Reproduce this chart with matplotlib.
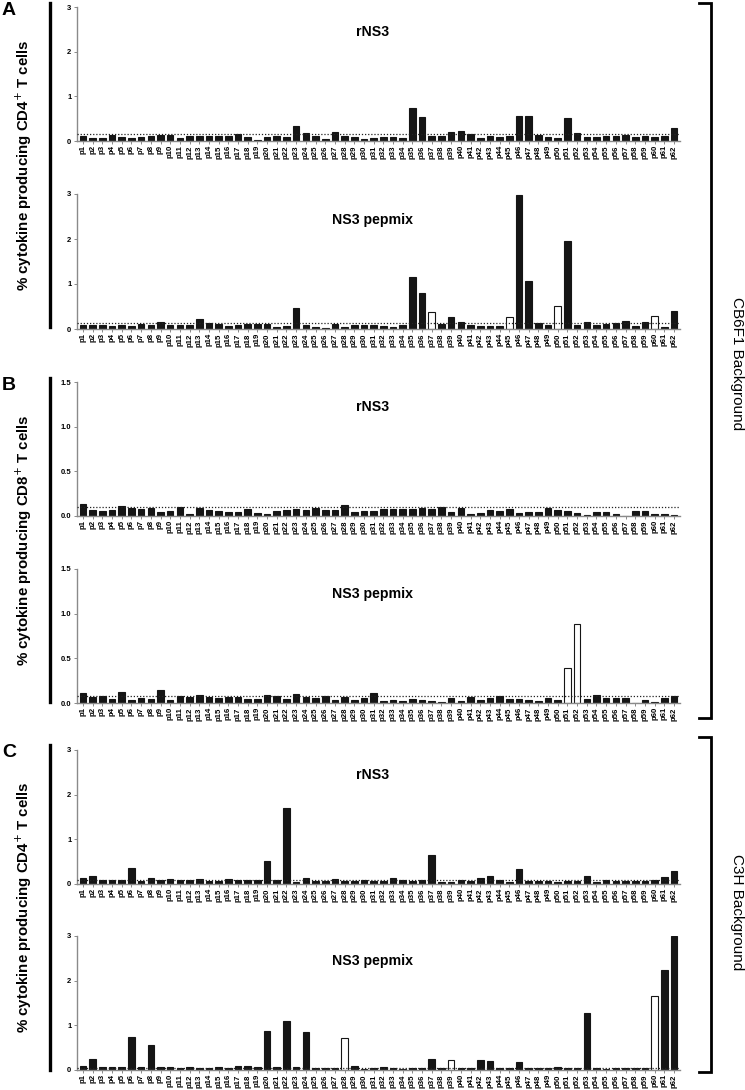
import matplotlib
matplotlib.use("Agg")
import matplotlib.pyplot as plt
from matplotlib.lines import Line2D

plt.rcParams['font.family'] = ['Liberation Sans', 'DejaVu Sans']

peptides = [f"p{i}" for i in range(1, 63)]

# Panel A (CB6F1, CD4+)
a_rns3 = [0.11, 0.075, 0.075, 0.14, 0.08, 0.075, 0.10, 0.105, 0.14, 0.14,
          0.075, 0.11, 0.11, 0.11, 0.11, 0.11, 0.16, 0.10, 0.02, 0.08,
          0.11, 0.08, 0.34, 0.19, 0.11, 0.045, 0.20, 0.105, 0.09, 0.04,
          0.06, 0.09, 0.09, 0.07, 0.74, 0.53, 0.11, 0.12, 0.20, 0.22,
          0.15, 0.075, 0.105, 0.09, 0.11, 0.56, 0.56, 0.135, 0.10, 0.075,
          0.52, 0.17, 0.10, 0.10, 0.12, 0.105, 0.135, 0.08, 0.12, 0.08,
          0.105, 0.30]
a_rns3_cut = 0.15
a_rns3_open = []

a_pep = [0.10, 0.10, 0.09, 0.07, 0.10, 0.075, 0.11, 0.09, 0.15, 0.08,
         0.08, 0.09, 0.23, 0.14, 0.11, 0.075, 0.09, 0.11, 0.12, 0.11,
         0.05, 0.07, 0.46, 0.08, 0.045, 0.02, 0.11, 0.05, 0.10, 0.10,
         0.08, 0.07, 0.045, 0.08, 1.15, 0.80, 0.37, 0.12, 0.27, 0.16,
         0.10, 0.075, 0.07, 0.06, 0.27, 2.98, 1.07, 0.13, 0.09, 0.51,
         1.96, 0.09, 0.15, 0.08, 0.11, 0.13, 0.18, 0.07, 0.16, 0.29,
         0.05, 0.39]
a_pep_cut = 0.126
a_pep_open = ["p37", "p45", "p50", "p60"]

# Panel B (CB6F1, CD8+)
b_rns3 = [0.13, 0.07, 0.06, 0.063, 0.11, 0.093, 0.08, 0.093, 0.048, 0.052,
          0.104, 0.026, 0.089, 0.067, 0.052, 0.044, 0.048, 0.078, 0.037, 0.026,
          0.052, 0.063, 0.08, 0.063, 0.093, 0.07, 0.07, 0.12, 0.04, 0.06,
          0.06, 0.08, 0.074, 0.074, 0.074, 0.093, 0.074, 0.10, 0.04, 0.085,
          0.026, 0.033, 0.07, 0.06, 0.078, 0.037, 0.048, 0.044, 0.085, 0.067,
          0.055, 0.033, 0.007, 0.048, 0.048, 0.022, 0.004, 0.06, 0.052, 0.018,
          0.026, 0.011]
b_rns3_cut = 0.104
b_rns3_open = []

b_pep = [0.11, 0.067, 0.078, 0.041, 0.12, 0.03, 0.056, 0.049, 0.14, 0.037,
         0.075, 0.067, 0.086, 0.067, 0.052, 0.063, 0.067, 0.049, 0.041, 0.093,
         0.078, 0.041, 0.104, 0.063, 0.06, 0.075, 0.037, 0.071, 0.03, 0.06,
         0.11, 0.022, 0.03, 0.019, 0.049, 0.037, 0.022, 0.011, 0.06, 0.022,
         0.067, 0.037, 0.056, 0.082, 0.049, 0.049, 0.034, 0.026, 0.052, 0.037,
         0.39, 0.88, 0.041, 0.086, 0.06, 0.06, 0.052, 0.0, 0.037, 0.015,
         0.06, 0.075]
b_pep_cut = 0.082
b_pep_open = ["p51", "p52"]

# Panel C (C3H, CD4+)
c_rns3 = [0.13, 0.18, 0.08, 0.09, 0.10, 0.35, 0.075, 0.13, 0.08, 0.11,
          0.10, 0.09, 0.12, 0.06, 0.075, 0.12, 0.10, 0.10, 0.09, 0.52,
          0.10, 1.70, 0.04, 0.14, 0.075, 0.07, 0.11, 0.06, 0.075, 0.10,
          0.06, 0.06, 0.13, 0.10, 0.07, 0.10, 0.64, 0.05, 0.04, 0.10,
          0.075, 0.14, 0.19, 0.08, 0.04, 0.34, 0.075, 0.06, 0.075, 0.05,
          0.075, 0.06, 0.17, 0.05, 0.09, 0.075, 0.075, 0.06, 0.06, 0.08,
          0.16, 0.29]
c_rns3_cut = 0.08
c_rns3_open = []

c_pep = [0.09, 0.25, 0.07, 0.075, 0.07, 0.75, 0.075, 0.57, 0.07, 0.07,
         0.05, 0.075, 0.045, 0.045, 0.075, 0.05, 0.10, 0.09, 0.06, 0.87,
         0.07, 1.09, 0.07, 0.86, 0.037, 0.037, 0.037, 0.72, 0.08, 0.03,
         0.037, 0.06, 0.045, 0.03, 0.037, 0.037, 0.25, 0.037, 0.22, 0.05,
         0.037, 0.22, 0.20, 0.045, 0.045, 0.19, 0.05, 0.037, 0.037, 0.07,
         0.045, 0.045, 1.28, 0.05, 0.02, 0.045, 0.045, 0.045, 0.05, 1.66,
         2.24, 3.0]
c_pep_cut = 0.04
c_pep_open = ["p28", "p39", "p60"]

W, H = 745, 1090
fig = plt.figure(figsize=(W / 100, H / 100), dpi=100)

def fx(px):
    return px / W

def fy(py):
    return 1 - py / H

panels = [
    (a_rns3, a_rns3_cut, a_rns3_open, "rNS3", 7, 141, [0, 1, 2, 3], ["0", "1", "2", "3"], 3),
    (a_pep, a_pep_cut, a_pep_open, "NS3 pepmix", 194, 329, [0, 1, 2, 3], ["0", "1", "2", "3"], 3),
    (b_rns3, b_rns3_cut, b_rns3_open, "rNS3", 382, 516, [0, 0.5, 1.0, 1.5], ["0.0", "0.5", "1.0", "1.5"], 1.5),
    (b_pep, b_pep_cut, b_pep_open, "NS3 pepmix", 569, 703, [0, 0.5, 1.0, 1.5], ["0.0", "0.5", "1.0", "1.5"], 1.5),
    (c_rns3, c_rns3_cut, c_rns3_open, "rNS3", 750, 884, [0, 1, 2, 3], ["0", "1", "2", "3"], 3),
    (c_pep, c_pep_cut, c_pep_open, "NS3 pepmix", 936, 1070, [0, 1, 2, 3], ["0", "1", "2", "3"], 3),
]

ax_left, ax_right = 77, 680
spine_col = "#8a8a8a"
for vals, cut, opens, title, top, bot, yt, ytl, ymax in panels:
    ax = fig.add_axes([fx(ax_left), fy(bot), (ax_right - ax_left) / W, (bot - top) / H])
    x = list(range(len(peptides)))
    face = ["white" if p in opens else "#151515" for p in peptides]
    ax.bar(x, vals, width=0.68, color=face, edgecolor="#151515", linewidth=0.8)
    ax.axhline(cut, color="#222222", linestyle=(0, (1, 1.5)), linewidth=0.9, zorder=3)
    ax.set_xlim(-0.62, len(peptides) - 0.38)
    ax.set_ylim(0, ymax)
    ax.set_yticks(yt)
    ax.set_yticklabels(ytl, fontsize=5.5, fontweight="bold")
    ax.set_xticks(x)
    ax.set_xticklabels(peptides, rotation=90, fontsize=5.6, fontweight="bold")
    ax.tick_params(axis="y", length=2.5, width=0.7, color=spine_col, pad=1.5)
    ax.tick_params(axis="x", length=2.0, width=0.7, color=spine_col, pad=1.0)
    for s in ["top", "right"]:
        ax.spines[s].set_visible(False)
    for s in ["left", "bottom"]:
        ax.spines[s].set_color(spine_col)
        ax.spines[s].set_linewidth(1.0)
    ax.text(0.49, 0.81, title, transform=ax.transAxes, ha="center", va="center",
            fontsize=10.2, fontweight="bold")

# Left group lines, letters and y labels
groups = [("A", 3, 327, "% cytokine producing CD4$^{+}$ T cells"),
          ("B", 378, 702, "% cytokine producing CD8$^{+}$ T cells"),
          ("C", 745, 1070, "% cytokine producing CD4$^{+}$ T cells")]
for letter, y0, y1, lab in groups:
    fig.add_artist(Line2D([fx(50), fx(50)], [fy(y0), fy(y1)], color="black", linewidth=2.4))
    fig.text(fx(2), fy(y0 - 1), letter, fontsize=14, fontweight="bold", ha="left", va="top")
    fig.text(fx(24), fy((y0 + y1) / 2), lab, rotation=90, fontsize=10.8, fontweight="bold",
             ha="center", va="center")

# Right brackets
brackets = [(3, 718, 364, "CB6F1 Background"), (737, 1072, 912, "C3H Background")]
for y0, y1, yc, lab in brackets:
    xs = [fx(699), fx(711), fx(711), fx(699)]
    ys = [fy(y0), fy(y0), fy(y1), fy(y1)]
    fig.add_artist(Line2D(xs, ys, color="black", linewidth=2.0, solid_joinstyle="miter"))
    fig.text(fx(737), fy(yc), lab, rotation=-90, fontsize=11,
             ha="center", va="center")

fig.savefig("out.png", dpi=100)
